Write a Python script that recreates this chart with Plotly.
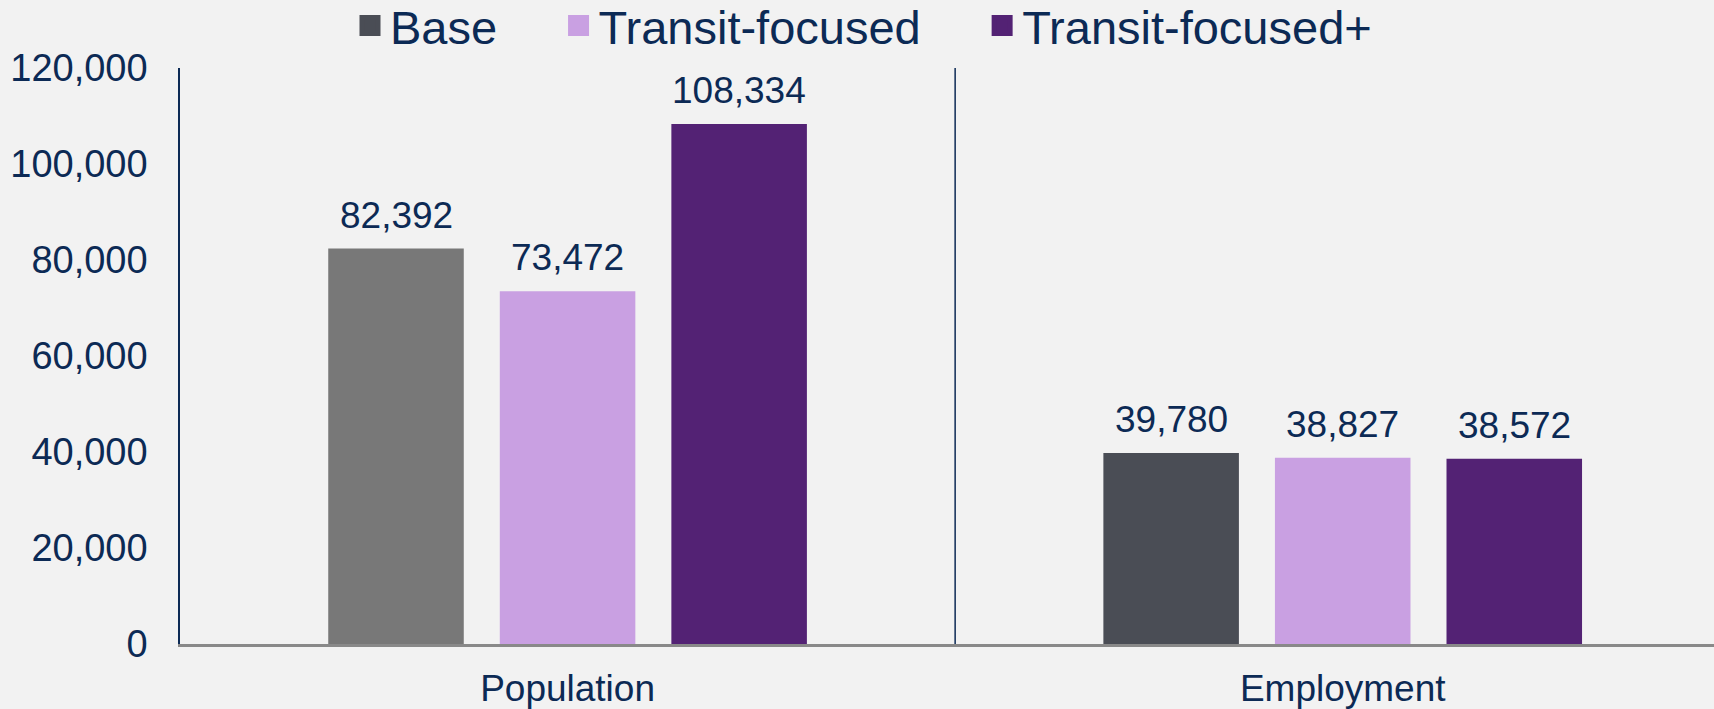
import plotly.graph_objects as go

categories = ["Population", "Employment"]
series_names = ["Base", "Transit-focused", "Transit-focused+"]
base_values = [82392, 39780]
transit_values = [73472, 38827]
transit_plus_values = [108334, 38572]
y_ticks = [0, 20000, 40000, 60000, 80000, 100000, 120000]

NAVY = "#0c2a55"
BG = "#f2f2f2"
FONT = "Liberation Sans, Arial, sans-serif"

base_colors = ["#787878", "#4a4d55"]
legend_colors = ["#4a4d55", "#c9a0e2", "#532274"]

BARGAP = 0.336
fig = go.Figure()
series = [
    (base_values, base_colors),
    (transit_values, "#c9a0e2"),
    (transit_plus_values, "#532274"),
]
slot = (1 - BARGAP) / len(series)
for k, (name, (vals, col)) in enumerate(zip(series_names, series)):
    fig.add_trace(go.Bar(
        x=categories, y=vals, name=name, showlegend=False,
        marker=dict(color=col, line=dict(width=0)),
    ))
    off = (k - (len(series) - 1) / 2) * slot
    for i, v in enumerate(vals):
        fig.add_annotation(
            xref="x", yref="y", x=i + off, y=v, text=f"{v:,}",
            showarrow=False, yanchor="bottom", yshift=11,
            font=dict(color=NAVY, size=37, family=FONT),
        )

sp = "\u2002\u2002\u2009"
for name, col in zip(series_names, legend_colors):
    fig.add_trace(go.Scatter(
        x=[None], y=[None], mode="markers", name=name + sp,
        marker=dict(symbol="square", size=16, color=col,
                    line=dict(color=col, width=5)),
    ))

fig.add_shape(type="line", xref="x", yref="paper", x0=0.5, x1=0.5, y0=0, y1=1,
              line=dict(color=NAVY, width=1.5))

fig.update_layout(
    width=1714, height=709,
    paper_bgcolor=BG, plot_bgcolor=BG,
    font=dict(family=FONT, color=NAVY, size=37),
    margin=dict(l=180, r=0, t=68, b=65, autoexpand=False),
    barmode="group", bargap=BARGAP, bargroupgap=0.21,
    legend=dict(orientation="h", xref="container", x=350 / 1714, xanchor="left",
                yref="container", y=1 - 26 / 709, yanchor="middle",
                font=dict(size=47, color=NAVY, family=FONT), itemsizing="trace",
                bgcolor="rgba(0,0,0,0)"),
    xaxis=dict(range=[-0.5, 1.479], showgrid=False, zeroline=False,
               showline=True, linecolor="#898989", linewidth=3, automargin=False,
               ticks="", tickfont=dict(size=37, color=NAVY), ticklabelstandoff=10),
    yaxis=dict(range=[0, 120000], tickvals=y_ticks, tickformat=",",
               showgrid=False, zeroline=False, showline=True, linecolor=NAVY,
               linewidth=1.5, ticks="", ticklabelstandoff=23, automargin=False,
               tickfont=dict(size=38, color=NAVY)),
)

fig.write_html("out.html", config={"displayModeBar": False},
               post_script="document.body.style.margin='0';")
